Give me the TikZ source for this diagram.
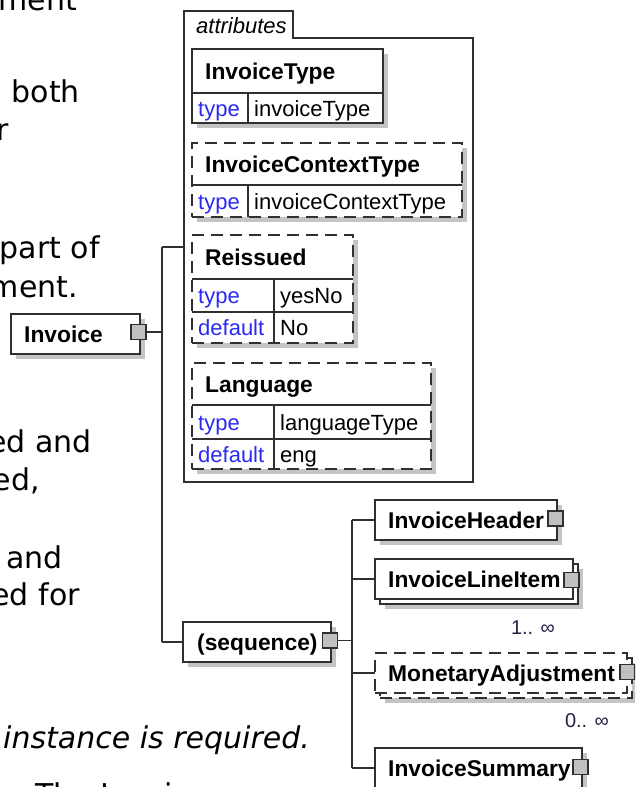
\documentclass[tikz,border=0pt]{standalone}
\usepackage{fontspec}
\setmainfont{Liberation Sans}
\newfontfamily\verd{DejaVu Sans}
\usetikzlibrary{shadows}
\definecolor{lc}{HTML}{303030}
\definecolor{shd}{HTML}{C4C4C4}
\definecolor{btn}{HTML}{C0C0C0}
\definecolor{kw}{HTML}{2A2AF0}
\definecolor{mc}{HTML}{202040}
\begin{document}
\begin{tikzpicture}[x=1pt,y=-1pt,
 plain/.style={draw=lc, line width=1.4pt, fill=white, anchor=north west, inner sep=0pt, outer sep=0pt},
 box/.style={plain, general shadow={shadow xshift=5pt, shadow yshift=-5pt, fill=shd}},
 dashy/.style={dash pattern=on 12pt off 7pt},
 cell/.style={draw=lc, line width=1.2pt},
 conn/.style={draw=lc, line width=1.4pt},
 btnbox/.style={draw=lc, line width=1.2pt, fill=btn, minimum size=15pt, inner sep=0pt},
 ttl/.style={font=\fontsize{22.8}{26}\selectfont\bfseries, anchor=base west, inner sep=0pt},
 key/.style={font=\fontsize{22}{26}\selectfont, text=kw, anchor=base west, inner sep=0pt},
 val/.style={font=\fontsize{22}{26}\selectfont, anchor=base west, inner sep=0pt},
 prose/.style={font=\verd\fontsize{30}{36}\selectfont, anchor=base east, inner sep=0pt},
 mult/.style={font=\fontsize{20}{22}\selectfont, text=mc, anchor=base, inner sep=0pt}
]
\useasboundingbox (0,0) rectangle (635,787);
\clip (0,0) rectangle (635,787);

% surrounding prose fragments
\node[prose] (p1) at (77,10) {ment};
\node[prose] (p2) at (80,102) {both};
\node[prose] (p3) at (9,140) {r};
\node[prose] (p4) at (100,258) {part of};
\node[prose] (p5) at (78,297) {ment.};
\node[prose] (p6) at (92,452) {ed and};
\node[prose] (p7) at (40,490) {ed,};
\node[prose] (p8) at (63,568) {and};
\node[prose] (p9) at (80,605) {ed for};
\node[prose, anchor=base west, font=\verd\itshape\fontsize{30}{36}\selectfont] (p10) at (3,748) {instance is required.};
\node[prose, anchor=base west] (p11) at (35,805) {The Invoice};

% attributes group
\node[anchor=north west, minimum width=289pt, minimum height=444pt, inner sep=0pt, outer sep=0pt] (grp) at (184,38) {};
\draw[conn] (grp.south west) -- (184,11) -- (293,11) -- (293,38) -- (grp.north east) -- (grp.south east) -- cycle;
\node[font=\fontsize{22}{26}\selectfont\itshape, anchor=base west, inner sep=0pt] (atl) at (196,33) {attributes};

% connectors
\coordinate (t1) at (162,247);
\coordinate (t2) at (162,642);
\coordinate (u1) at (352,520);
\coordinate (u2) at (352,768);

% Invoice
\node[box, minimum width=129pt, minimum height=40pt] (inv) at (11,314) {};
\node[ttl] at (24,342) {Invoice};

% InvoiceType
\node[box, minimum width=191pt, minimum height=74pt] (a1) at (192,49) {};
\draw[cell] (192,93) -- (383,93) (248,93) -- (248,123);
\node[ttl] at (205,79) {InvoiceType};
\node[key] at (198,116) {type};
\node[val] at (254,116) {invoiceType};

% InvoiceContextType
\node[box, dashy, minimum width=270pt, minimum height=74pt] (a2) at (192,143) {};
\draw[cell] (192,185) -- (462,185) (248,185) -- (248,217);
\node[ttl] at (205,172) {InvoiceContextType};
\node[key] at (198,209) {type};
\node[val] at (254,209) {invoiceContextType};

% Reissued
\node[box, dashy, minimum width=161pt, minimum height=108pt] (a3) at (192,235) {};
\draw[cell] (192,279) -- (353,279) (192,312) -- (353,312) (274,279) -- (274,343);
\node[ttl] at (205,265) {Reissued};
\node[key] at (198,303) {type};
\node[val] at (280,303) {yesNo};
\node[key] at (198,335) {default};
\node[val] at (280,335) {No};

% Language
\node[box, dashy, minimum width=239pt, minimum height=106pt] (a4) at (192,363) {};
\draw[cell] (192,405) -- (431,405) (192,439) -- (431,439) (274,405) -- (274,469);
\node[ttl] at (205,392) {Language};
\node[key] at (198,430) {type};
\node[val] at (280,430) {languageType};
\node[key] at (198,462) {default};
\node[val] at (280,462) {eng};

% sequence
\node[box, minimum width=148pt, minimum height=40pt] (seq) at (183,622) {};
\node[ttl] at (197,650) {(sequence)};

% children
\node[box, minimum width=182pt, minimum height=40pt] (ih) at (375,500) {};
\node[ttl] at (388,528) {InvoiceHeader};

\node[box, minimum width=198pt, minimum height=40pt] (li2) at (380,564) {};
\node[plain, minimum width=198pt, minimum height=40pt] (li) at (375,559) {};
\node[ttl] at (388,587) {InvoiceLineItem};
\node[mult] (m1) at (533,634) {1.. ∞};

\node[box, dashy, minimum width=252pt, minimum height=40pt] (ma2) at (380,658) {};
\node[plain, dashy, minimum width=252pt, minimum height=40pt] (ma) at (375,653) {};
\node[ttl] at (388,681) {MonetaryAdjustment};
\node[mult] (m2) at (587,727) {0.. ∞};

\node[box, minimum width=207pt, minimum height=40pt] (is) at (375,748) {};
\node[ttl] at (388,776) {InvoiceSummary};

% connector lines
\draw[conn] (t1) -- (t2);
\draw[conn] (t1) -- (t1 -| grp.west);
\draw[conn] (t2) -- (seq.west);
\draw[conn] (u1) -- (u2);
\draw[conn] (u1) -- (ih.west);
\draw[conn] (li.west -| u1) -- (li.west);
\draw[conn] (ma.west -| u1) -- (ma.west);
\draw[conn] (u2) -- (is.west);

% expand buttons
\node[btnbox] (binv) at (138.5,332) {};
\node[btnbox] (bseq) at (330,640.5) {};
\node[btnbox] (bih) at (555.5,518.5) {};
\node[btnbox] (bli) at (571.5,580) {};
\node[btnbox] (bma) at (627.5,672) {};
\node[btnbox] (bis) at (580.5,767) {};
\draw[conn] (binv.east) -- (binv.east -| t1);
\draw[conn] (bseq.east) -- (bseq.east -| u1);
\end{tikzpicture}
\end{document}
